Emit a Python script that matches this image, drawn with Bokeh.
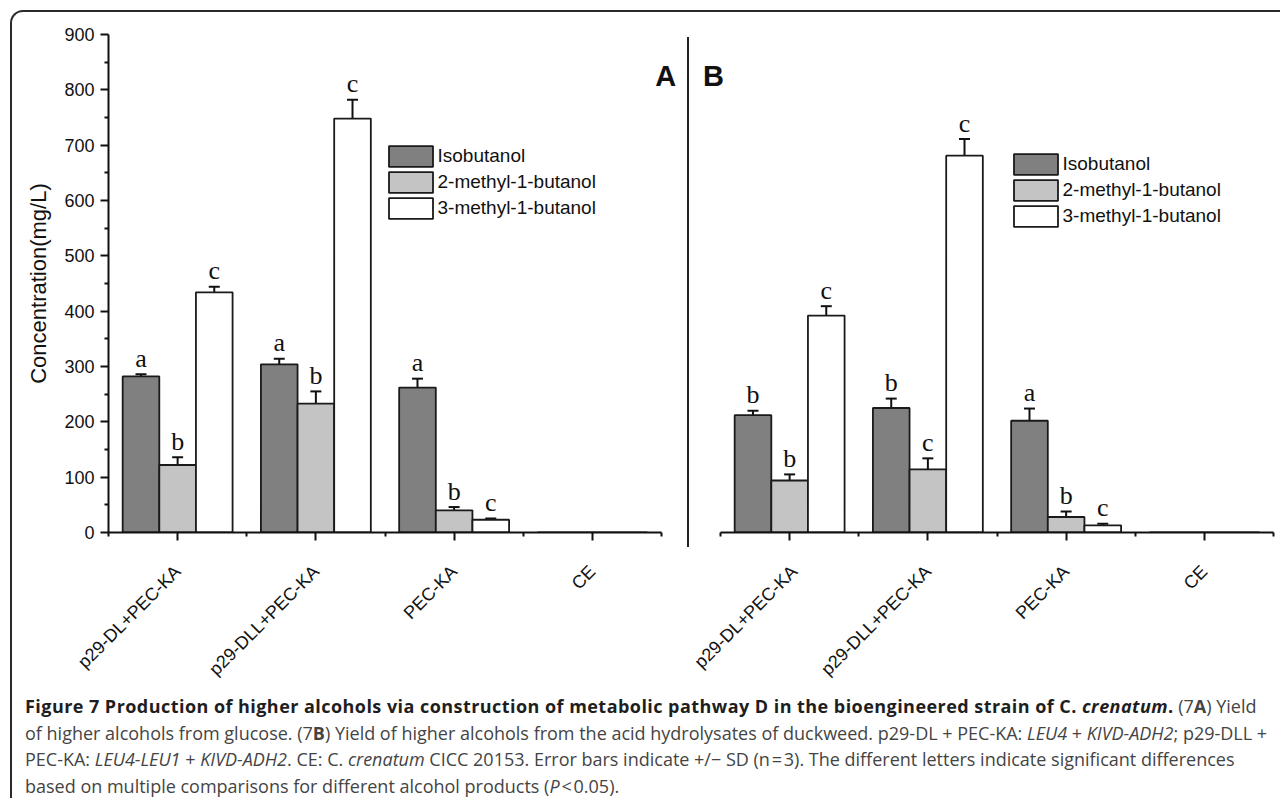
import math
from bokeh.plotting import figure
from bokeh.models import (ColumnDataSource, Range1d, FixedTicker, Whisker, TeeHead,
                          Legend, LegendItem, Label, Div)
from bokeh.layouts import row, column
from bokeh.embed import file_html
from bokeh.resources import INLINE
from bokeh.core.properties import value

# ---------------- data ----------------
categories = ["p29-DL+PEC-KA", "p29-DLL+PEC-KA", "PEC-KA", "CE"]
series = ["Isobutanol", "2-methyl-1-butanol", "3-methyl-1-butanol"]

# Panel A: glucose
a_isobutanol = [282, 304, 262, 0]
a_isobutanol_sd = [4, 10, 16, 0]
a_2m1b = [122, 233, 40, 0]
a_2m1b_sd = [14, 22, 6, 0]
a_3m1b = [434, 748, 23, 0]
a_3m1b_sd = [10, 34, 2.5, 0]
a_letters_iso = ["a", "a", "a", ""]
a_letters_2m = ["b", "b", "b", ""]
a_letters_3m = ["c", "c", "c", ""]

# Panel B: duckweed hydrolysates
b_isobutanol = [212, 225, 202, 0]
b_isobutanol_sd = [8, 17, 22, 0]
b_2m1b = [94, 114, 28, 0]
b_2m1b_sd = [11, 20, 10, 0]
b_3m1b = [392, 681, 13, 0]
b_3m1b_sd = [17, 30, 3, 0]
b_letters_iso = ["b", "b", "a", ""]
b_letters_2m = ["b", "c", "b", ""]
b_letters_3m = ["c", "c", "c", ""]

y_ticks = [0, 100, 200, 300, 400, 500, 600, 700, 800, 900]

# ---------------- styles ----------------
FILLS = ["#808080", "#c4c4c4", "#ffffff"]
INK = "#111111"
BAR_W = 0.265
OFFS = [-BAR_W, 0.0, BAR_W]
SANS = "Liberation Sans"
SERIF = "Liberation Serif"
CAT_PX = 138.25          # pixel width of one category
N = len(categories)


def make_panel(vals, sds, letters, with_y, width, mb_left, mb_right, x0, x1, legend_loc):
    p = figure(width=width, height=678, x_range=Range1d(x0, x1), y_range=Range1d(0, 900),
               output_backend="svg", toolbar_location=None,
               y_axis_location="left" if with_y else None,
               min_border_left=mb_left, min_border_right=mb_right,
               min_border_top=22, min_border_bottom=158)
    p.xgrid.visible = False
    p.ygrid.visible = False
    p.outline_line_color = None
    p.background_fill_color = None
    p.border_fill_color = None

    rends = []
    for j in range(3):
        xs = [i + 0.5 + OFFS[j] for i in range(N)]
        src = ColumnDataSource(dict(x=xs, top=vals[j],
                                    up=[v + e for v, e in zip(vals[j], sds[j])],
                                    lab=letters[j]))
        r = p.vbar(x="x", top="top", width=BAR_W, bottom=0, source=src,
                   fill_color=FILLS[j], line_color="#1a1a1a", line_width=1.8)
        rends.append(r)
        keep = [i for i in range(N) if vals[j][i] > 0]
        wsrc = ColumnDataSource(dict(x=[xs[i] for i in keep],
                                     up=[vals[j][i] + sds[j][i] for i in keep],
                                     lo=[vals[j][i] - sds[j][i] for i in keep]))
        w = Whisker(base="x", upper="up", lower="lo", source=wsrc, dimension="height",
                    line_color=INK, line_width=2,
                    upper_head=TeeHead(size=11, line_color=INK, line_width=2),
                    lower_head=TeeHead(size=11, line_color=INK, line_width=2))
        p.add_layout(w)
        p.text(x="x", y="up", text="lab", source=src, text_align="center",
               text_baseline="alphabetic", y_offset=-16,
               text_font=value(SERIF), text_font_size="26px", text_color=INK)

    ax = p.xaxis[0]
    ax.bounds = (0, N)
    ax.ticker = FixedTicker(ticks=[i + 0.5 for i in range(N)],
                            minor_ticks=list(range(N + 1)))
    ax.major_label_overrides = {i + 0.5: c for i, c in enumerate(categories)}
    ax.major_label_orientation = math.pi / 4
    ax.major_label_text_font = SANS
    ax.major_label_text_font_size = "18px"
    ax.major_label_text_color = INK
    ax.major_label_standoff = 28
    ax.axis_line_width = 2
    ax.axis_line_color = INK
    ax.major_tick_line_width = 2
    ax.minor_tick_line_width = 2
    ax.major_tick_line_color = INK
    ax.minor_tick_line_color = INK
    ax.major_tick_out = 8
    ax.major_tick_in = 0
    ax.minor_tick_out = 4
    ax.minor_tick_in = 0

    if with_y:
        ay = p.yaxis[0]
        ay.ticker = FixedTicker(ticks=y_ticks,
                                minor_ticks=[t + 50 for t in y_ticks[:-1]])
        ay.axis_label = "Concentration(mg/L)"
        ay.axis_label_text_font = SANS
        ay.axis_label_text_font_style = "normal"
        ay.axis_label_text_font_size = "22px"
        ay.axis_label_text_color = INK
        ay.axis_label_standoff = 10
        ay.major_label_text_font = SANS
        ay.major_label_text_font_size = "18px"
        ay.major_label_text_color = INK
        ay.major_label_standoff = 6
        ay.axis_line_width = 2
        ay.axis_line_color = INK
        ay.major_tick_line_width = 2
        ay.minor_tick_line_width = 2
        ay.major_tick_line_color = INK
        ay.minor_tick_line_color = INK
        ay.major_tick_out = 8
        ay.major_tick_in = 0
        ay.minor_tick_out = 4
        ay.minor_tick_in = 0

    legend = Legend(items=[LegendItem(label=series[j], renderers=[rends[j]]) for j in range(3)],
                    location=legend_loc, orientation="vertical",
                    glyph_width=55, glyph_height=26, label_height=26, spacing=0,
                    padding=0, margin=0, label_standoff=0,
                    border_line_color=None, background_fill_alpha=0,
                    label_text_font=SANS, label_text_font_size="19px",
                    label_text_color=INK)
    p.add_layout(legend)
    return p


# Panel A frame: x 108 .. 684 px (axis drawn 0..4 only)
pA = make_panel([a_isobutanol, a_2m1b, a_3m1b],
                [a_isobutanol_sd, a_2m1b_sd, a_3m1b_sd],
                [a_letters_iso, a_letters_2m, a_letters_3m],
                True, 672, 96, 0, 0, 576 / CAT_PX, (274.5, 311.5))
# Panel B frame: x 690 .. 1273 px (axis drawn 0..4 only)
pB = make_panel([b_isobutanol, b_2m1b, b_3m1b],
                [b_isobutanol_sd, b_2m1b_sd, b_3m1b_sd],
                [b_letters_iso, b_letters_2m, b_letters_3m],
                False, 590, 0, 7, -30 / CAT_PX, N, (317.5, 303.5))

pA.add_layout(Label(x=4.03, y=825, text="A", text_font=SANS, text_font_style="bold",
                    text_font_size="29px", text_align="center",
                    text_baseline="alphabetic", text_color=INK))
pB.add_layout(Label(x=-0.05, y=825, text="B", text_font=SANS, text_font_style="bold",
                    text_font_size="29px", text_align="center",
                    text_baseline="alphabetic", text_color=INK))

sep = Div(text="", width=2, height=510, margin=(25, 1, 0, 3),
          styles={"background-color": "#222222"})

caption_html = (
    "<b style='color:#1e1e1e;letter-spacing:0.45px'>Figure 7 Production of higher alcohols via construction of metabolic "
    "pathway D in the bioengineered strain of C. <i>crenatum</i>.</b> (7<b>A</b>) Yield<br>"
    "of higher alcohols from glucose. (7<b>B</b>) Yield of higher alcohols from the acid "
    "hydrolysates of duckweed. p29-DL + PEC-KA: <i>LEU4</i> + <i>KIVD-ADH2</i>; p29-DLL +<br>"
    "PEC-KA: <i>LEU4-LEU1</i> + <i>KIVD-ADH2</i>. CE: C. <i>crenatum</i> CICC 20153. Error bars "
    "indicate +/&minus; SD (n&#8202;=&#8202;3). The different letters indicate significant differences<br>"
    "based on multiple comparisons for different alcohol products (<i>P</i>&#8202;&lt;&#8202;0.05)."
)
caption = Div(text=caption_html, width=1255, height=105, margin=(3, 0, 0, 13),
              styles={"font-family": "'Open Sans', sans-serif", "font-size": "18px",
                      "line-height": "26.7px", "color": "#444444",
                      "white-space": "nowrap"})

layout = column(row(pA, sep, pB), caption, margin=(10, 0, 0, 10),
                styles={"border-top": "2px solid #2a2a2a",
                        "border-left": "2px solid #2a2a2a",
                        "border-top-left-radius": "13px"})

open("out.html", "w").write(file_html(layout, INLINE))
